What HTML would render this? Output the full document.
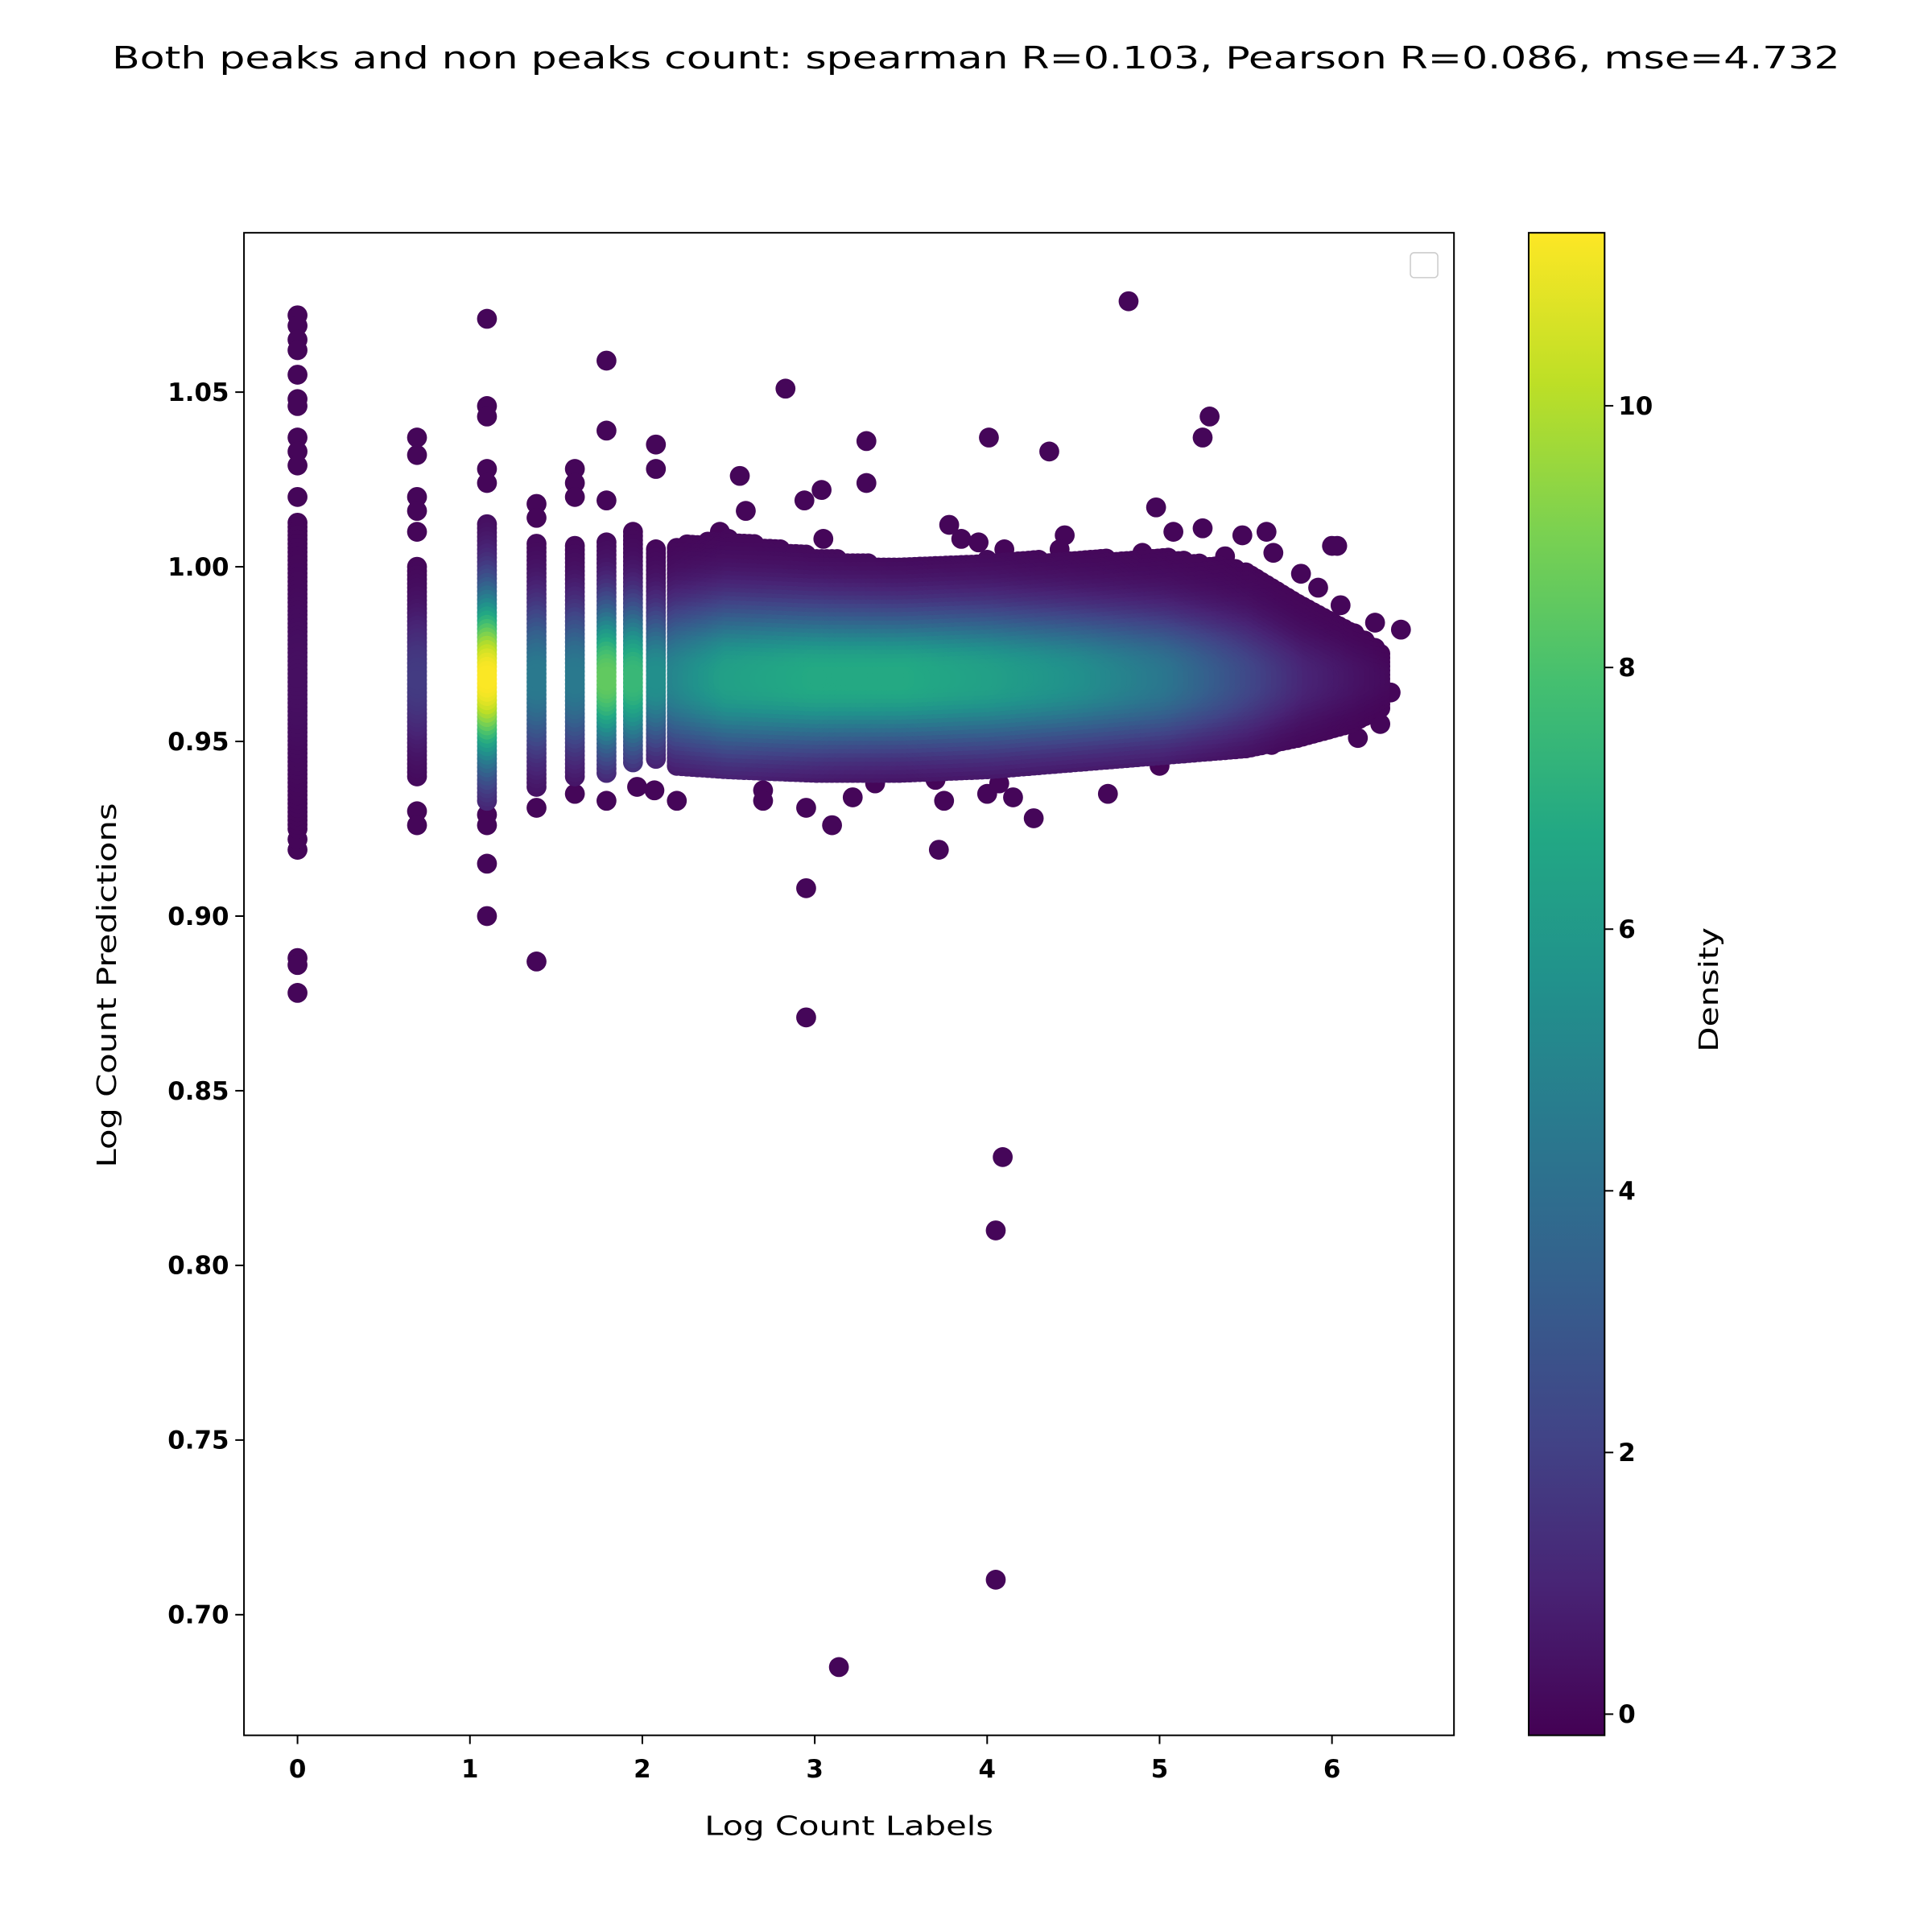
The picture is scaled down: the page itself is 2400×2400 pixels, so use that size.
<!DOCTYPE html>
<html><head><meta charset="utf-8"><style>
html,body{margin:0;padding:0;background:#fff;overflow:hidden}
svg{display:block}
text{font-family:"DejaVu Sans","Liberation Sans",sans-serif}
</style></head><body>
<svg id="chart" width="2400" height="2400" viewBox="0 0 1552 1552" xmlns="http://www.w3.org/2000/svg">
<defs>
<linearGradient id="vir" x1="0" y1="1" x2="0" y2="0">
<stop offset="0" stop-color="#440154"/><stop offset="0.1" stop-color="#482475"/><stop offset="0.2" stop-color="#414487"/><stop offset="0.3" stop-color="#355f8d"/><stop offset="0.4" stop-color="#2a788e"/><stop offset="0.5" stop-color="#21918c"/><stop offset="0.6" stop-color="#22a884"/><stop offset="0.7" stop-color="#44bf70"/><stop offset="0.8" stop-color="#7ad151"/><stop offset="0.9" stop-color="#bddf26"/><stop offset="1" stop-color="#fde725"/>
</linearGradient>
<clipPath id="pc"><rect x="196" y="187" width="972" height="1207"/></clipPath>
</defs>
<text x="90" y="55" font-size="25" textLength="1388" lengthAdjust="spacingAndGlyphs">Both peaks and non peaks count: spearman R=0.103, Pearson R=0.086, mse=4.732</text>
<g id="marks" clip-path="url(#pc)"></g>
<rect x="196" y="187" width="972" height="1207" fill="none" stroke="#000" stroke-width="1.3"/>
<rect x="1133" y="203" width="22" height="20" rx="3" fill="#fff" stroke="#ccc" stroke-width="1"/>
<g id="xticks"></g>
<g id="yticks"></g>
<text x="566" y="1474" font-size="21" textLength="232" lengthAdjust="spacingAndGlyphs">Log Count Labels</text>
<text transform="translate(93,938) rotate(-90)" font-size="21" textLength="293" lengthAdjust="spacingAndGlyphs">Log Count Predictions</text>
<rect x="1228" y="187" width="61" height="1207" fill="url(#vir)" stroke="#000" stroke-width="1.3"/>
<g id="cticks"></g>
<text transform="translate(1380,845) rotate(-90)" font-size="21" textLength="100" lengthAdjust="spacingAndGlyphs">Density</text>
</svg>
<script>
const xTicks=[0,1,2,3,4,5,6];
const yTicks=[0.70,0.75,0.80,0.85,0.90,0.95,1.00,1.05];
const cTicks=[0,2,4,6,8,10];
// discrete columns: x, ymin, ymax, peak density
const colX=[0,0.693,1.099,1.386,1.609,1.792,1.946,2.079];
const colMin=[0.925,0.94,0.933,0.937,0.94,0.941,0.944,0.945];
const colMax=[1.013,1.001,1.013,1.007,1.007,1.008,1.01,1.006];
const colPeak=[0.3,1.8,11.3,4.5,4.5,8.5,7.5,5.5];
// continuous band knots
const bandX=[2.2,2.5,3.0,3.5,4.0,4.5,5.0,5.5,5.8,6.1,6.3];
const bandTop=[1.006,1.008,1.003,1.0,1.002,1.002,1.003,0.999,0.99,0.982,0.975];
const bandBot=[0.943,0.942,0.941,0.941,0.942,0.944,0.946,0.948,0.951,0.955,0.96];
const bandPeak=[5,6.3,6.8,6.8,6.3,5.5,4.3,2.2,1.0,0.4,0.1];
// outliers
const outX=[0,0,0,0,0,0,0,0,0,0,0,0,0,0,0,0,0.693,0.693,0.693,0.693,0.693,0.693,0.693,1.099,1.099,1.099,1.099,1.099,1.099,1.099,1.099,1.099,1.386,1.386,1.386,1.386,1.609,1.609,1.609,1.609,1.792,1.792,1.792,1.792,2.079,2.079,2.83,2.565,3.04,2.94,3.3,3.3,4.01,4.36,4.82,5.29,5.25,4.98,2.95,2.95,3.1,3.72,4.09,4.05,4.05,3.14,2.95,3.22,4.27,4.7,6.34,6.4,6.28,6.15,6.0,6.03,
2.45,2.6,2.75,3.05,3.45,3.78,3.85,3.95,4.1,4.45,4.42,4.9,5.08,5.25,5.38,5.48,5.62,5.66,5.82,5.92,6.05,6.25,6.2,6.12,2.7,2.7,3.35,3.75,3.7,4.0,4.07,4.15,4.45,4.55,5.0,5.2,5.45,5.65,5.85,2.07,1.97,2.2];
const outY=[1.072,1.069,1.065,1.062,1.055,1.048,1.046,1.037,1.033,1.029,1.02,0.919,0.922,0.888,0.886,0.878,1.037,1.032,1.02,1.016,1.01,0.93,0.926,1.071,1.046,1.043,1.028,1.024,0.929,0.926,0.915,0.9,1.018,1.014,0.931,0.887,1.028,1.024,1.02,0.935,1.059,1.039,1.019,0.933,1.035,1.028,1.051,1.026,1.022,1.019,1.036,1.024,1.037,1.033,1.076,1.043,1.037,1.017,0.908,0.871,0.926,0.919,0.831,0.81,0.71,0.685,0.931,0.934,0.928,0.935,0.964,0.982,0.955,0.951,1.006,1.006,
1.01,1.016,1.004,1.008,0.998,1.012,1.008,1.007,1.005,1.009,1.005,1.004,1.01,1.011,1.003,1.009,1.01,1.004,0.998,0.994,0.989,0.984,0.966,0.958,0.936,0.933,0.938,0.933,0.939,0.935,0.938,0.934,0.945,0.945,0.943,0.947,0.948,0.949,0.952,0.936,0.937,0.933];

const X0=196,X1=1168,Y0=187,Y1=1394;
function sx(v){return 239+v*138.5;}
function sy(v){return 315+(1.05-v)/0.05*140.3;}
function sc(v){return 1377-v/2*210.2;}
const stops=[[68,1,84],[72,36,117],[65,68,135],[53,95,141],[42,120,142],[33,145,140],[34,168,132],[68,191,112],[122,209,81],[189,223,38],[253,231,37]];
function vir(d){let t=(d+0.16)/11.49;t=Math.max(0,Math.min(1,t))*10;const i=Math.min(9,Math.floor(t)),f=t-i;const a=stops[i],b=stops[i+1];return 'rgb('+a.map((c,k)=>Math.round(c+(b[k]-c)*f)).join(',')+')';}
function interp(arr,x){for(let i=0;i<bandX.length-1;i++){if(x<=bandX[i+1]){const f=(x-bandX[i])/(bandX[i+1]-bandX[i]);return arr[i]+(arr[i+1]-arr[i])*f;}}return arr[arr.length-1];}
const NS='http://www.w3.org/2000/svg';
const pts=[];
const CENTER=0.968;
function colPts(x,lo,hi,pk){const sg=(hi-lo)/3.5;for(let y=lo;y<=hi+1e-9;y+=0.0012){pts.push([x,y,pk*Math.exp(-Math.pow((y-CENTER)/sg,2))]);}}
colX.forEach((x,i)=>colPts(x,colMin[i],colMax[i],colPeak[i]));
for(let x=bandX[0];x<=bandX[bandX.length-1];x+=0.03){colPts(x,interp(bandBot,x),interp(bandTop,x),interp(bandPeak,x));}
outX.forEach((x,i)=>pts.push([x,outY[i],0]));
pts.sort((a,b)=>a[2]-b[2]);
const g=document.getElementById('marks');
pts.forEach(p=>{const c=document.createElementNS(NS,'circle');


c.setAttribute('cx',sx(p[0]).toFixed(1));c.setAttribute('cy',sy(p[1]).toFixed(1));c.setAttribute('r','8');c.setAttribute('fill',vir(p[2]));g.appendChild(c);});
function tick(parent,x1,y1,x2,y2){const l=document.createElementNS(NS,'line');


l.setAttribute('x1',x1);l.setAttribute('y1',y1);l.setAttribute('x2',x2);l.setAttribute('y2',y2);l.setAttribute('stroke','#000');l.setAttribute('stroke-width','1.3');parent.appendChild(l);}
function label(parent,x,y,txt,anchor){const t=document.createElementNS(NS,'text');


t.setAttribute('x',x);t.setAttribute('y',y);t.setAttribute('font-size','20');t.setAttribute('font-weight','bold');t.setAttribute('text-anchor',anchor);t.textContent=txt;parent.appendChild(t);}
const gx=document.getElementById('xticks');
xTicks.forEach(v=>{tick(gx,sx(v),Y1,sx(v),Y1+7);label(gx,sx(v),Y1+34,String(v),'middle');});
const gy=document.getElementById('yticks');
yTicks.forEach(v=>{tick(gy,X0,sy(v),X0-7,sy(v));label(gy,X0-12,sy(v)+7,v.toFixed(2),'end');});
const gc=document.getElementById('cticks');
cTicks.forEach(v=>{tick(gc,1289,sc(v),1296,sc(v));label(gc,1300,sc(v)+7,String(v),'start');});
</script>
</body></html>
